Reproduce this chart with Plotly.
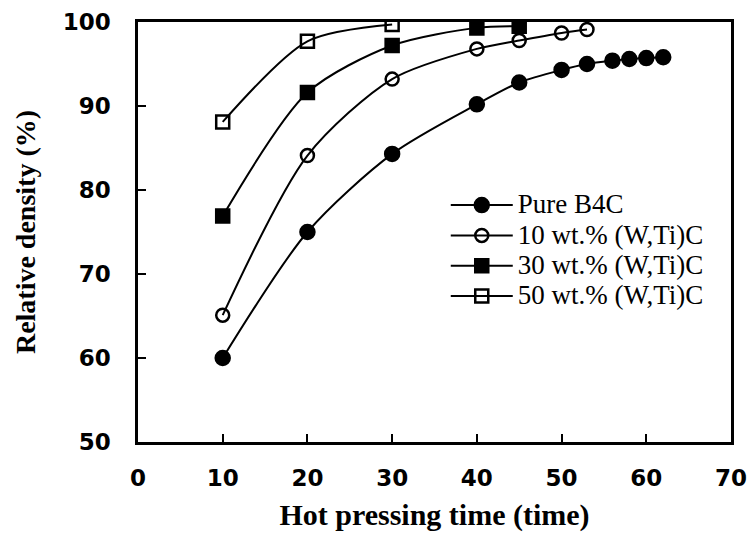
import plotly.graph_objects as go

# Data
pure_x = [10, 20, 30, 40, 45, 50, 53, 56, 58, 60, 62]
pure_y = [60.0, 75.0, 84.3, 90.2, 92.8, 94.3, 95.0, 95.4, 95.6, 95.7, 95.8]

w10_x = [10, 20, 30, 40, 45, 50, 53]
w10_y = [65.1, 84.1, 93.2, 96.8, 97.8, 98.7, 99.1]

w30_x = [10, 20, 30, 40, 45]
w30_y = [76.9, 91.6, 97.2, 99.3, 99.5]

w50_x = [10, 20, 30]
w50_y = [88.1, 97.7, 99.7]

names = ["Pure B4C", "10 wt.% (W,Ti)C", "30 wt.% (W,Ti)C", "50 wt.% (W,Ti)C"]
xs = [pure_x, w10_x, w30_x, w50_x]
ys = [pure_y, w10_y, w30_y, w50_y]
symbols = ["circle", "circle-open", "square", "square-open"]
sizes = [14, 13, 13, 13]

x_ticks = [0, 10, 20, 30, 40, 50, 60, 70]
y_ticks = [50, 60, 70, 80, 90, 100]

fig = go.Figure()
for x, y, n, s, sz in zip(xs, ys, names, symbols, sizes):
    fig.add_trace(go.Scatter(
        x=x, y=y, name='<span style="font-size:27px">' + n + '</span>',
        mode="lines+markers",
        line=dict(color="black", width=2, shape="spline", smoothing=0.8),
        marker=dict(symbol=s, size=sz, color="black",
                    line=dict(color="black", width=2.5)),
    ))

axis_common = dict(
    showline=True, linecolor="black", linewidth=2.5, mirror=True,
    ticks="inside", ticklen=8, tickwidth=2, tickcolor="black",
    showgrid=False, zeroline=False, automargin=False,
    tickfont=dict(family="DejaVu Sans", size=23, color="black", weight="bold"),
)

fig.update_layout(
    width=752, height=536,
    margin=dict(l=138, r=21, t=22, b=94),
    paper_bgcolor="white", plot_bgcolor="white",
    xaxis=dict(range=[0, 70], tickvals=x_ticks, ticklabelstandoff=14,
               title=dict(text="Hot pressing time (time)", standoff=14,
                          font=dict(family="Liberation Serif", size=30, color="black", weight="bold")),
               **axis_common),
    yaxis=dict(range=[50, 100], tickvals=y_ticks, ticklabelstandoff=20,
               title=dict(text="Relative density (%)", standoff=19,
                          font=dict(family="Liberation Serif", size=28, color="black", weight="bold")),
               **axis_common),
    legend=dict(x=0.519, y=0.612, xanchor="left", yanchor="top",
                bgcolor="rgba(0,0,0,0)", borderwidth=0,
                font=dict(family="Liberation Serif", size=21, color="black"),
                itemwidth=62, tracegroupgap=0),
    showlegend=True,
)

fig.write_html("out.html")
